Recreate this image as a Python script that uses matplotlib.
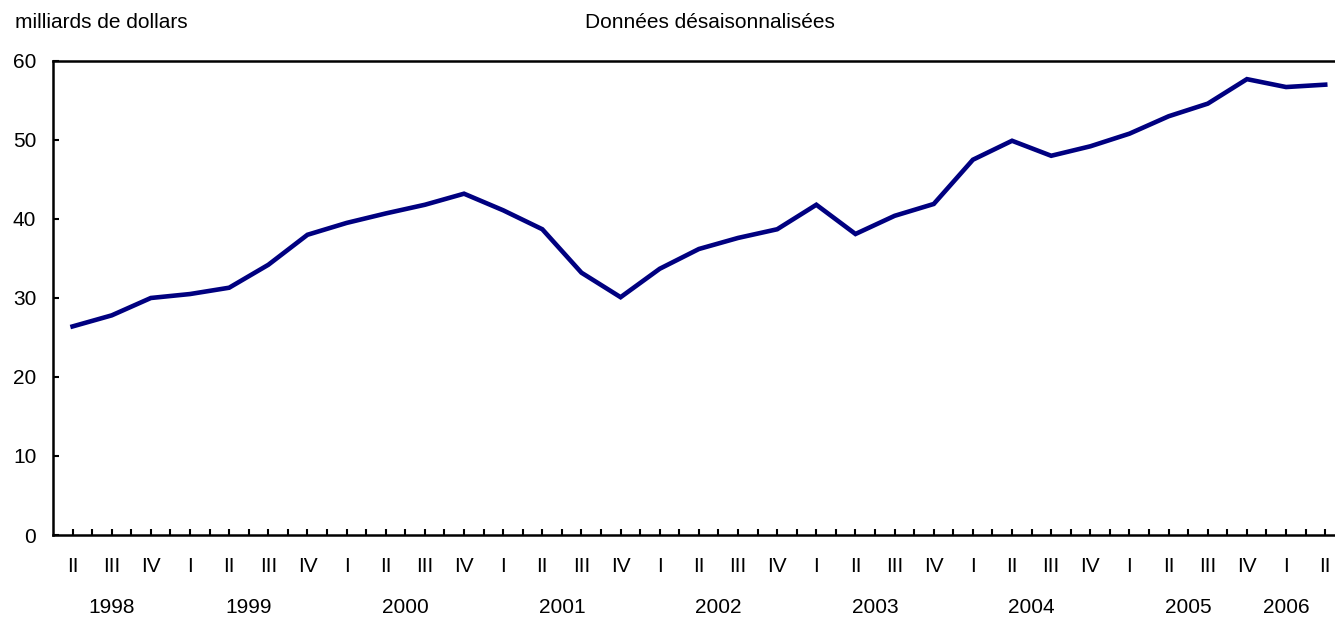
import matplotlib

matplotlib.use("Agg")
import matplotlib.pyplot as plt
import numpy as np

plt.rcParams["font.family"] = ["Liberation Sans", "DejaVu Sans"]

# quarterly values, 1998 Q2 .. 2006 Q2 (billions of dollars)
years = [1998] * 3 + [y for y in range(1999, 2006) for _ in range(4)] + [2006] * 2
quarters = ["II", "III", "IV"] + ["I", "II", "III", "IV"] * 7 + ["I", "II"]
values = [
    26.4, 27.8, 30.0,
    30.5, 31.3, 34.2, 38.0,
    39.5, 40.7, 41.8, 43.2,
    41.1, 38.7, 33.2, 30.1,
    33.7, 36.2, 37.6, 38.7,
    41.8, 38.1, 40.4, 41.9,
    47.5, 49.9, 48.0, 49.2,
    50.8, 53.0, 54.6, 57.7,
    56.7, 57.0,
]
y_ticks = [0, 10, 20, 30, 40, 50, 60]

fig = plt.figure(figsize=(13.35, 6.19), dpi=100)
ax = fig.add_axes([0.0397, 0.1357, 0.9603, 0.7658])

x = np.arange(len(values))
ax.plot(x, values, color="#000080", lw=3.3, solid_joinstyle="miter")

ax.set_xlim(-0.5, 32.25)
ax.set_ylim(0, 60)
ax.set_yticks(y_ticks)
ax.set_xticks(x)
ax.set_xticklabels(quarters)
ax.set_xticks(x[:-1] + 0.5, minor=True)

for side in ("left", "top", "bottom"):
    ax.spines[side].set_linewidth(1.8)
ax.spines["right"].set_visible(False)

ax.tick_params(axis="x", which="both", direction="in", length=4, width=1.5,
               labelsize=15, pad=16)
ax.tick_params(axis="y", direction="in", length=4, width=1.5, labelsize=15, pad=12)

# year labels centred under their quarters
for yr in sorted(set(years)):
    idx = [i for i, v in enumerate(years) if v == yr]
    cx = min(np.mean(idx), len(values) - 2)
    ax.annotate(str(yr), xy=(cx, 0), xycoords=("data", "axes fraction"),
                xytext=(0, -52.5), textcoords="offset points",
                ha="center", va="center", fontsize=15)

fig.text(15 / 1335, 1 - 28 / 619, "milliards de dollars", fontsize=15,
         ha="left", va="baseline")
fig.text(710 / 1335, 1 - 28 / 619, "Données désaisonnalisées", fontsize=15,
         ha="center", va="baseline")

fig.savefig("out.png", dpi=100)
